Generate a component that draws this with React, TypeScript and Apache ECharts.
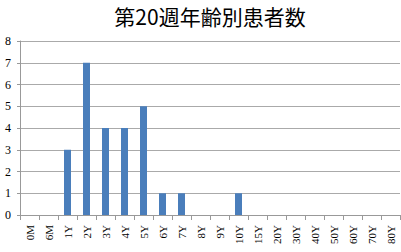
import React, { useEffect, useRef } from "react";
import * as echarts from "echarts";

const title = "第20週年齢別患者数";
const categories = ["0M", "6M", "1Y", "2Y", "3Y", "4Y", "5Y", "6Y", "7Y", "8Y", "9Y", "10Y", "15Y", "20Y", "30Y", "40Y", "50Y", "60Y", "70Y", "80Y"];
const values = [0, 0, 3, 7, 4, 4, 5, 1, 1, 0, 0, 1, 0, 0, 0, 0, 0, 0, 0, 0];

const serif = "'Liberation Serif', 'DejaVu Serif', 'Noto Sans CJK JP', serif";

export default function App() {
  const ref = useRef<HTMLDivElement>(null);
  useEffect(() => {
    if (!ref.current) return;
    const chart = echarts.init(ref.current, undefined, { renderer: "svg" });
    chart.setOption({
      animation: false,
      backgroundColor: "#ffffff",
      title: {
        text: title,
        left: 205,
        textAlign: "center",
        top: 0,
        textStyle: { fontFamily: "'Noto Sans CJK JP', serif", fontSize: 21, fontWeight: "normal", color: "#000" },
      },
      grid: { left: 20, right: 1, top: 41, bottom: 37, containLabel: false },
      xAxis: {
        type: "category",
        data: categories,
        axisLine: { show: true, lineStyle: { color: "#999999", width: 1 } },
        axisTick: { show: true, alignWithLabel: false, length: 5, lineStyle: { color: "#999999" } },
        axisLabel: { rotate: 90, fontFamily: serif, fontSize: 11, color: "#000", margin: 10, interval: 0 },
      },
      yAxis: {
        type: "value",
        min: 0,
        max: 8,
        interval: 1,
        axisLine: { show: true, lineStyle: { color: "#999999" } },
        axisTick: { show: true, length: 3, lineStyle: { color: "#999999" } },
        splitLine: { show: true, lineStyle: { color: "#AAAAAA", width: 1 } },
        axisLabel: { fontFamily: serif, fontSize: 12, color: "#000", margin: 9 },
      },
      series: [
        {
          type: "bar",
          data: values,
          barWidth: 7,
          itemStyle: { color: "#4A7EBB" },
        },
      ],
    });
    return () => chart.dispose();
  }, []);
  return <div ref={ref} style={{ position: "fixed", left: 0, top: 0, width: 401, height: 252 }} />;
}
